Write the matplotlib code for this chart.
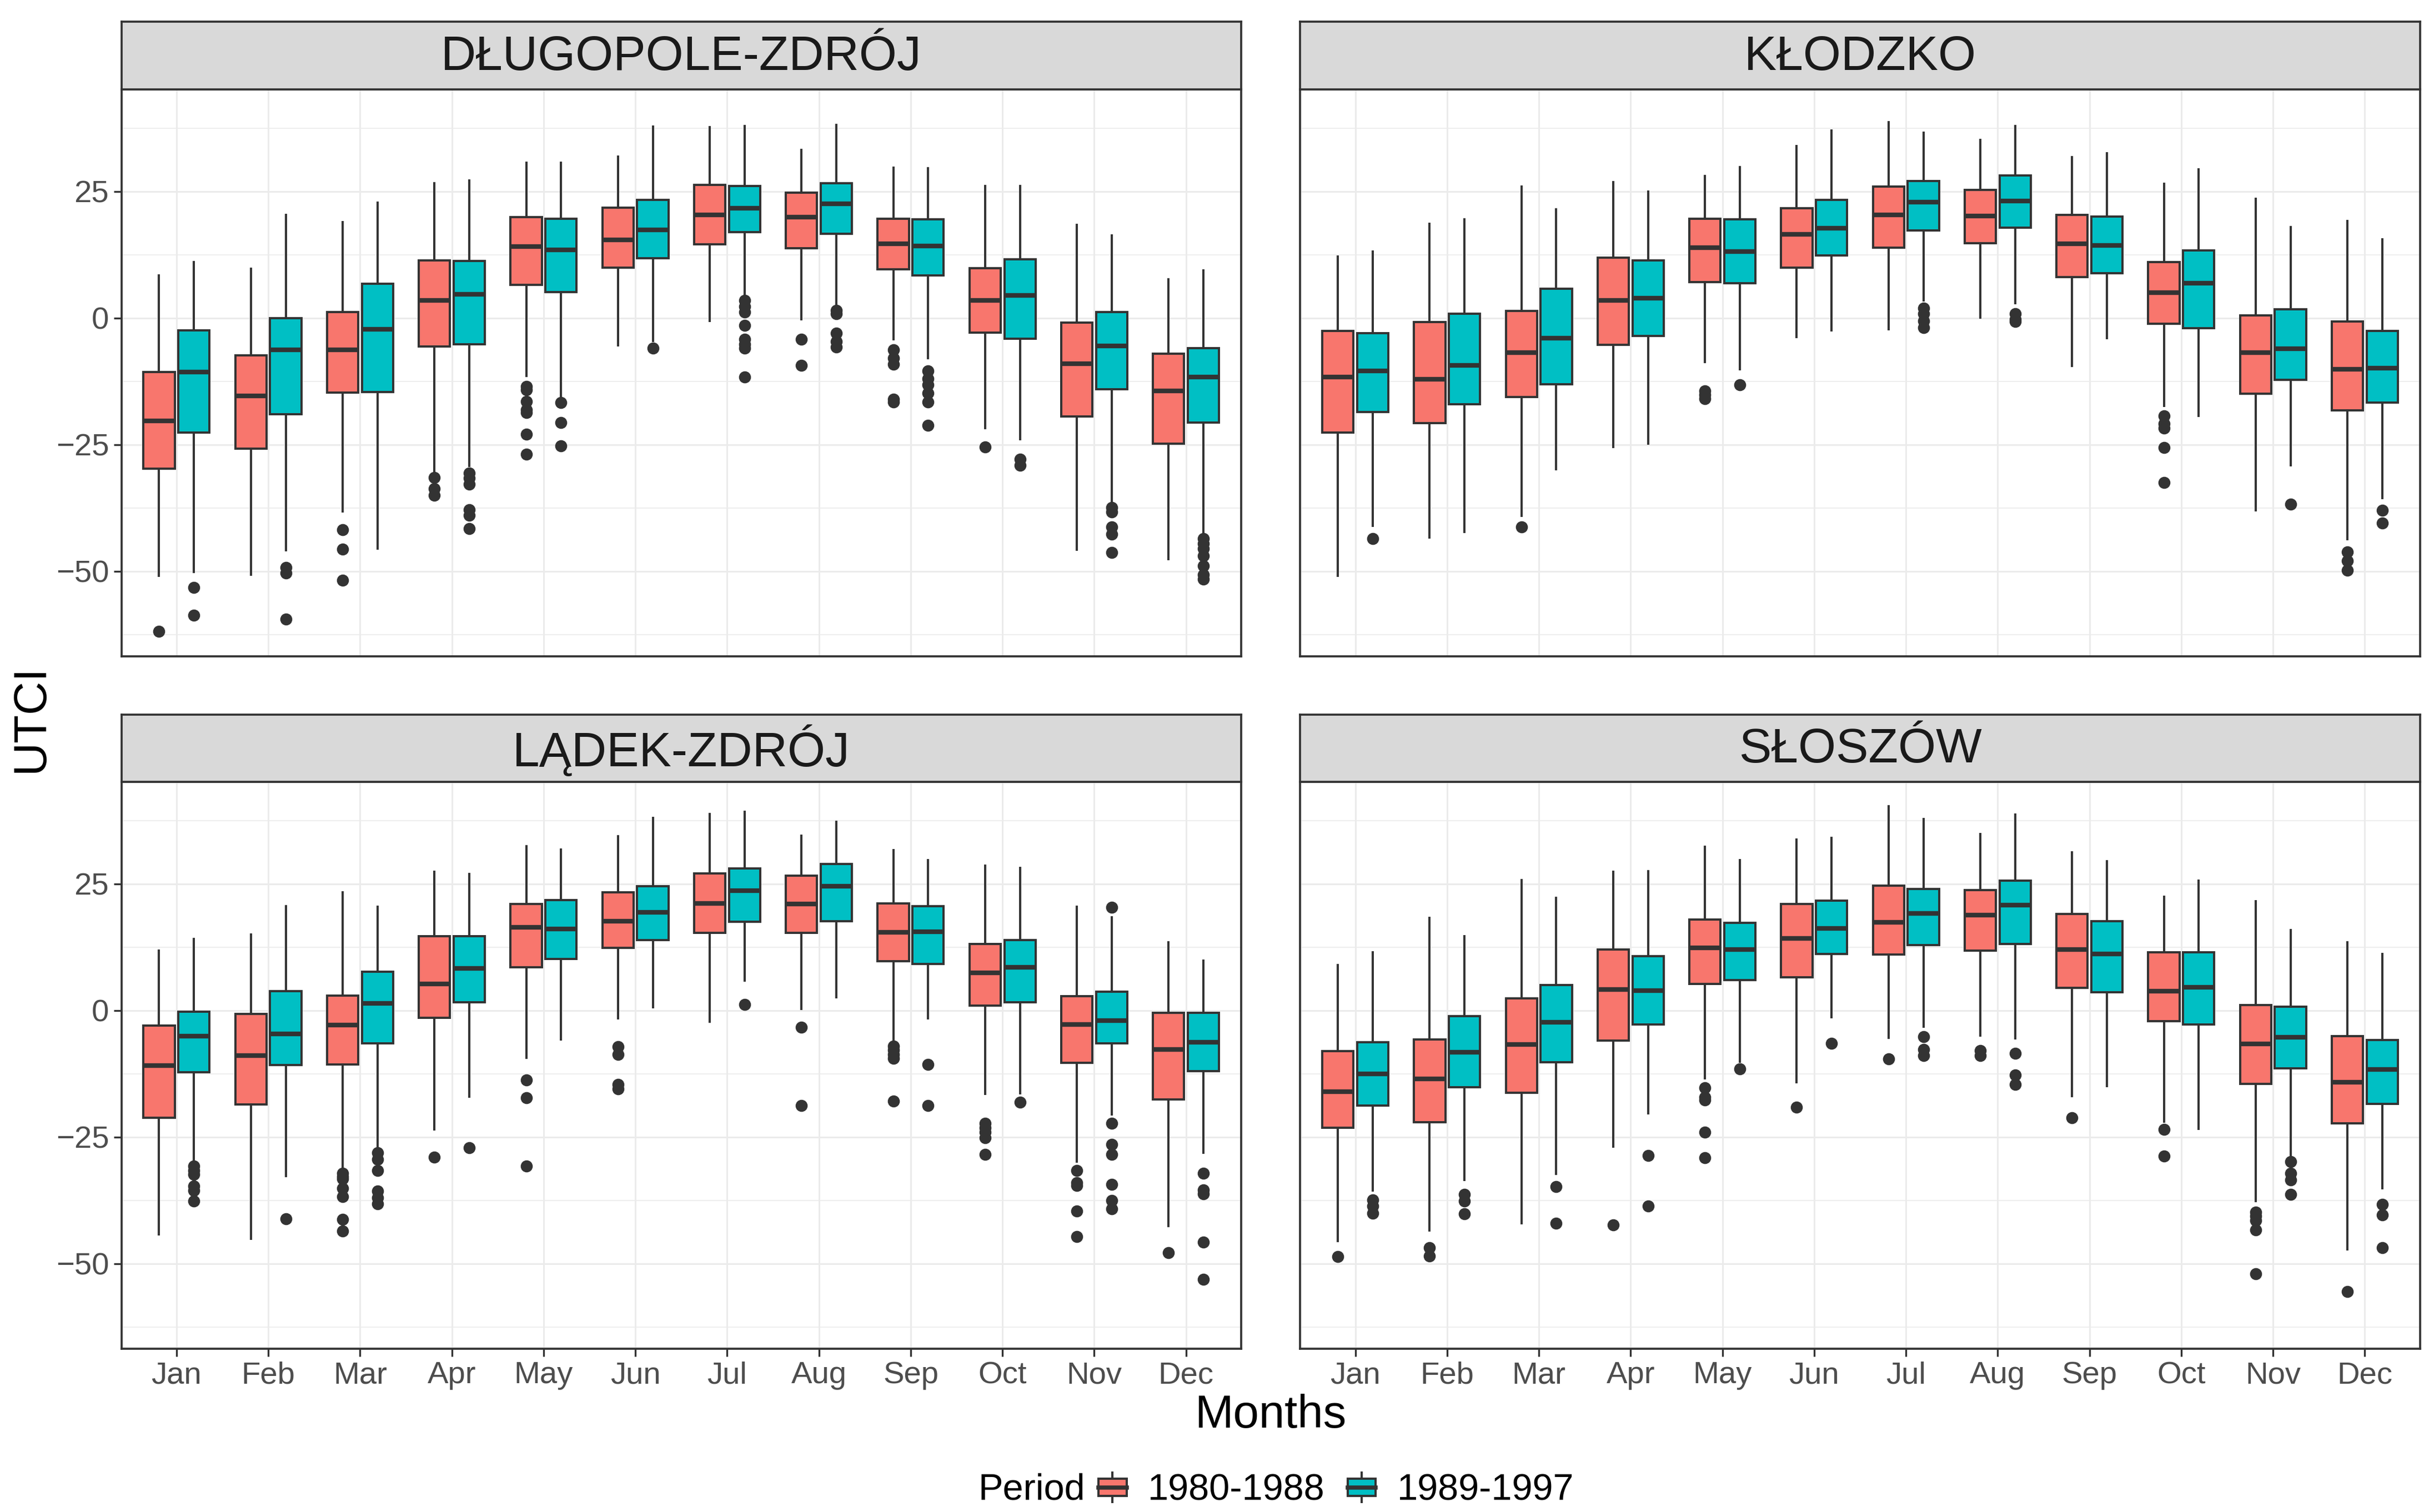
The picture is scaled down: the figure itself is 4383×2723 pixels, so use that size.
import numpy as np
import matplotlib.pyplot as plt
from matplotlib.patches import Rectangle, Patch
from matplotlib.lines import Line2D
from matplotlib.legend_handler import HandlerBase

plt.rcParams['font.family'] = ['Liberation Sans', 'DejaVu Sans']

months = ['Jan', 'Feb', 'Mar', 'Apr', 'May', 'Jun',
          'Jul', 'Aug', 'Sep', 'Oct', 'Nov', 'Dec']
stations = ['DŁUGOPOLE-ZDRÓJ', 'KŁODZKO', 'LĄDEK-ZDRÓJ', 'SŁOSZÓW']
periods = ['1980-1988', '1989-1997']
colors = ['#F8766D', '#00BFC4']

# per month: (lower whisker, Q1, median, Q3, upper whisker)
dlugopole_1 = [(-50.9, -29.8, -20.3, -10.7, 8.4), (-50.7, -25.8, -15.4, -7.4, 9.7),
               (-38.2, -14.7, -6.3, 1.2, 18.9), (-30.8, -5.6, 3.5, 11.4, 26.6),
               (-11.4, 6.6, 14.1, 19.9, 30.7), (-5.4, 9.9, 15.4, 21.8, 31.9),
               (-0.6, 14.6, 20.4, 26.3, 37.7), (-0.2, 13.8, 19.9, 24.8, 33.2),
               (-4.2, 9.6, 14.7, 19.6, 29.7), (-21.7, -2.9, 3.5, 9.8, 26.1),
               (-45.8, -19.4, -9.0, -0.9, 18.4), (-47.6, -24.8, -14.4, -7.0, 7.6)]
dlugopole_1_out = [[-61.9], [], [-41.8, -45.7, -51.8], [-31.5, -33.7, -35.0],
                   [-13.5, -14.2, -16.5, -18.1, -18.7, -23.0, -26.9], [], [],
                   [-4.2, -9.4], [-6.3, -7.9, -9.1, -16.0, -16.6], [-25.5], [], []]
dlugopole_2 = [(-50.2, -22.6, -10.7, -2.4, 11.0), (-45.9, -19.0, -6.3, 0.0, 20.4),
               (-45.5, -14.6, -2.2, 6.8, 22.8), (-29.2, -5.2, 4.7, 11.3, 27.2),
               (-15.8, 5.1, 13.5, 19.6, 30.7), (-4.5, 11.8, 17.4, 23.3, 37.8),
               (4.3, 17.0, 21.7, 26.1, 37.9), (2.3, 16.6, 22.6, 26.6, 38.1),
               (-7.9, 8.4, 14.2, 19.5, 29.6), (-23.9, -4.1, 4.5, 11.6, 26.1),
               (-36.8, -14.1, -5.5, 1.2, 16.3), (-42.8, -20.6, -11.6, -5.9, 9.4)]
dlugopole_2_out = [[-53.2, -58.7], [-49.3, -50.4, -59.5], [],
                   [-30.6, -31.6, -32.8, -37.9, -39.0, -41.6], [-16.7, -20.7, -25.2], [-6.0],
                   [3.5, 2.3, 1.2, -1.5, -4.2, -5.2, -5.9, -11.7], [1.5, 0.9, -3.0, -4.6, -5.7],
                   [-10.5, -12.0, -13.2, -14.8, -16.6, -21.2], [-27.9, -29.1],
                   [-37.4, -38.3, -41.3, -42.7, -46.3],
                   [-43.6, -44.6, -45.6, -47.0, -48.9, -50.7, -51.6]]

klodzko_1 = [(-50.9, -22.6, -11.6, -2.6, 12.2), (-43.3, -20.8, -12.1, -0.8, 18.6),
             (-39.1, -15.6, -6.8, 1.4, 26.0), (-25.5, -5.3, 3.5, 11.9, 26.9),
             (-8.7, 7.1, 13.9, 19.6, 28.1), (-3.8, 9.9, 16.5, 21.7, 34.0),
             (-2.2, 13.9, 20.4, 26.0, 38.7), (0.1, 14.8, 20.2, 25.3, 35.2),
             (-9.5, 8.1, 14.7, 20.4, 31.8), (-17.4, -1.1, 5.0, 11.0, 26.5),
             (-38.0, -14.9, -6.8, 0.5, 23.6), (-43.7, -18.2, -10.1, -0.7, 19.2)]
klodzko_1_out = [[], [], [-41.3], [], [-14.4, -15.2, -15.9], [], [], [], [],
                 [-19.3, -20.9, -21.7, -25.6, -32.5], [], [-46.2, -48.0, -49.8]]
klodzko_2 = [(-41.1, -18.6, -10.5, -3.0, 13.1), (-42.3, -17.0, -9.4, 0.8, 19.5),
             (-29.9, -13.1, -4.0, 5.8, 21.5), (-24.8, -3.5, 3.9, 11.4, 25.0),
             (-10.1, 6.9, 13.1, 19.5, 29.8), (-2.4, 12.4, 17.7, 23.3, 37.0),
             (3.5, 17.3, 22.9, 27.1, 36.6), (2.9, 17.8, 23.1, 28.2, 37.9),
             (-4.0, 8.9, 14.3, 20.0, 32.5), (-19.3, -2.0, 6.9, 13.4, 29.4),
             (-29.1, -12.2, -6.1, 1.7, 18.0), (-35.6, -16.7, -9.9, -2.5, 15.5)]
klodzko_2_out = [[-43.6], [], [], [], [-13.2], [], [2.0, 0.9, -0.6, -1.9],
                 [0.9, -0.2, -0.7], [], [], [-36.8], [-38.0, -40.5]]

ladek_1 = [(-44.2, -21.2, -10.9, -3.0, 11.8), (-45.1, -18.5, -8.9, -0.7, 15.0),
           (-31.4, -10.6, -2.9, 3.0, 23.3), (-23.5, -1.4, 5.3, 14.7, 27.4),
           (-9.3, 8.5, 16.4, 21.1, 32.5), (-1.5, 12.4, 17.7, 23.4, 34.4),
           (-2.2, 15.3, 21.2, 27.1, 38.8), (0.3, 15.3, 21.1, 26.6, 34.5),
           (-6.6, 9.8, 15.4, 21.2, 31.7), (-16.5, 1.0, 7.5, 13.1, 28.6),
           (-29.9, -10.3, -2.7, 2.8, 20.5), (-42.6, -17.6, -7.7, -0.5, 13.5)]
ladek_1_out = [[], [], [-32.1, -32.8, -33.3, -35.1, -36.8, -41.2, -43.6], [-29.0],
               [-13.7, -17.2, -30.7], [-7.1, -8.7, -14.6, -15.5], [], [-3.3, -18.8],
               [-7.0, -7.8, -8.7, -9.4, -17.9], [-22.3, -23.2, -24.0, -25.1, -28.4],
               [-31.6, -34.0, -34.6, -39.6, -44.6], [-47.8]]
ladek_2 = [(-30.1, -12.2, -5.1, -0.2, 14.1), (-32.7, -10.8, -4.6, 3.8, 20.6),
           (-27.7, -6.5, 1.4, 7.7, 20.5), (-17.0, 1.6, 8.3, 14.7, 27.0),
           (-5.7, 10.2, 16.1, 21.8, 31.8), (0.6, 13.9, 19.4, 24.6, 38.1),
           (5.9, 17.5, 23.7, 28.1, 39.3), (2.6, 17.6, 24.6, 28.9, 37.3),
           (-1.6, 9.2, 15.6, 20.6, 29.7), (-16.4, 1.6, 8.5, 13.9, 28.2),
           (-20.5, -6.5, -2.0, 3.7, 18.4), (-28.1, -12.0, -6.3, -0.5, 9.9)]
ladek_2_out = [[-30.7, -31.6, -32.4, -34.7, -35.5, -37.6], [-41.1],
               [-28.1, -29.4, -31.6, -35.7, -37.0, -38.2], [-27.1], [], [], [1.2], [],
               [-10.6, -18.8], [-18.1], [20.4, -22.3, -26.4, -28.4, -34.3, -37.5, -39.2],
               [-32.2, -35.4, -36.2, -45.7, -53.1]]

sloszow_1 = [(-45.5, -23.2, -16.0, -8.0, 9.0), (-43.5, -22.1, -13.5, -5.7, 18.3),
             (-42.0, -16.2, -6.7, 2.4, 25.8), (-26.9, -5.9, 4.2, 12.0, 27.4),
             (-13.4, 5.2, 12.4, 18.0, 32.3), (-14.2, 6.6, 14.2, 21.1, 33.8),
             (-5.4, 11.1, 17.4, 24.7, 40.4), (-5.0, 11.8, 18.8, 23.8, 34.9),
             (-16.9, 4.5, 12.1, 19.1, 31.2), (-22.0, -2.1, 3.8, 11.5, 22.5),
             (-37.6, -14.5, -6.6, 1.1, 21.6), (-47.2, -22.3, -14.2, -5.1, 13.5)]
sloszow_1_out = [[-48.6], [-46.8, -48.5], [], [-42.4], [-15.3, -17.1, -17.7, -24.0, -29.1],
                 [-19.1], [-9.6], [-7.9, -8.9], [-21.2], [-23.5, -28.7],
                 [-39.8, -40.6, -41.5, -43.3, -52.0], [-55.5]]
sloszow_2 = [(-35.6, -18.8, -12.5, -6.3, 11.5), (-33.5, -15.1, -8.2, -1.1, 14.7),
             (-32.3, -10.2, -2.3, 5.0, 22.2), (-20.3, -2.8, 3.9, 10.7, 27.5),
             (-10.1, 6.0, 12.0, 17.3, 29.7), (-1.3, 11.2, 16.2, 21.7, 34.1),
             (-3.2, 12.9, 19.2, 24.0, 37.8), (-5.5, 13.1, 20.8, 25.6, 38.7),
             (-14.9, 3.6, 11.2, 17.7, 29.5), (-23.4, -2.7, 4.6, 11.5, 25.6),
             (-28.8, -11.4, -5.3, 0.8, 15.9), (-35.1, -18.4, -11.6, -5.8, 11.2)]
sloszow_2_out = [[-37.4, -38.6, -40.0], [-36.3, -37.6, -40.2], [-34.8, -42.0],
                 [-28.6, -38.6], [-11.5], [-6.5], [-5.2, -7.7, -8.9], [-8.5, -12.7, -14.6],
                 [], [], [-29.9, -32.2, -33.5, -36.3], [-38.3, -40.4, -46.8]]

station_data = [
    ((dlugopole_1, dlugopole_1_out), (dlugopole_2, dlugopole_2_out)),
    ((klodzko_1, klodzko_1_out), (klodzko_2, klodzko_2_out)),
    ((ladek_1, ladek_1_out), (ladek_2, ladek_2_out)),
    ((sloszow_1, sloszow_1_out), (sloszow_2, sloszow_2_out)),
]

EDGE = '#333333'
GRID = '#EBEBEB'
LW = 0.95


def make_stats(boxes, outliers):
    stats = []
    for (lo, q1, med, q3, hi), fl in zip(boxes, outliers):
        stats.append(dict(whislo=lo, q1=q1, med=med, q3=q3, whishi=hi, fliers=fl))
    return stats


class BoxKey(HandlerBase):
    def create_artists(self, legend, orig_handle, xdescent, ydescent,
                       width, height, fontsize, trans):
        fc = orig_handle.get_facecolor()
        x0 = -xdescent
        y0 = -ydescent
        cx = x0 + width / 2
        bx0 = x0 + width * 0.12
        bw = width * 0.76
        box = Rectangle((bx0, y0 + height * 0.2), bw, height * 0.6,
                        facecolor=fc, edgecolor=EDGE, lw=LW, transform=trans)
        w1 = Line2D([cx, cx], [y0, y0 + height * 0.2], color=EDGE, lw=LW, transform=trans)
        w2 = Line2D([cx, cx], [y0 + height * 0.8, y0 + height], color=EDGE, lw=LW,
                    transform=trans)
        med = Line2D([bx0, bx0 + bw], [y0 + height * 0.5] * 2, color=EDGE, lw=1.8,
                     transform=trans)
        return [w1, w2, box, med]


fig = plt.figure(figsize=(4383 / 300, 2723 / 300), dpi=300)

col_x = [0.0499, 0.5342]
col_w = 0.4600
row_y = [0.566, 0.108]
plot_h = 0.375
strip_h = 0.0445

x = np.arange(1, 13)
offset = 0.19
box_w = 0.34

for i, name in enumerate(stations):
    r, c = divmod(i, 2)
    ax = fig.add_axes([col_x[c], row_y[r], col_w, plot_h])
    for k, (boxes, outs) in enumerate(station_data[i]):
        pos = x - offset if k == 0 else x + offset
        ax.bxp(make_stats(boxes, outs), positions=pos, widths=box_w,
               patch_artist=True, showcaps=False, manage_ticks=False,
               boxprops=dict(facecolor=colors[k], edgecolor=EDGE, linewidth=LW),
               whiskerprops=dict(color=EDGE, linewidth=LW),
               medianprops=dict(color=EDGE, linewidth=2.0, solid_capstyle='butt'),
               flierprops=dict(marker='o', markerfacecolor=EDGE, markeredgecolor=EDGE,
                               markersize=4.2, linestyle='none'))
    ax.set_xlim(0.4, 12.6)
    ax.set_ylim(-66.8, 45.2)
    ax.set_xticks(x)
    ax.set_yticks([-50, -25, 0, 25])
    ax.set_yticks([-62.5, -37.5, -12.5, 12.5, 37.5], minor=True)
    ax.set_axisbelow(True)
    ax.grid(True, which='major', color=GRID, linewidth=0.7)
    ax.grid(True, which='minor', axis='y', color=GRID, linewidth=0.4)
    for sp in ax.spines.values():
        sp.set_color(EDGE)
        sp.set_linewidth(0.9)
    ax.tick_params(which='minor', length=0)
    ax.tick_params(which='major', color=EDGE, width=0.8, length=3.4, pad=2,
                   labelsize=13.5, labelcolor='#4D4D4D')
    if r == 0:
        ax.tick_params(axis='x', bottom=False, labelbottom=False)
    else:
        ax.set_xticklabels(months)
    if c == 1:
        ax.tick_params(axis='y', left=False, labelleft=False)

    sax = fig.add_axes([col_x[c], row_y[r] + plot_h, col_w, strip_h])
    sax.set_facecolor('#D9D9D9')
    sax.set_xticks([])
    sax.set_yticks([])
    for sp in sax.spines.values():
        sp.set_color(EDGE)
        sp.set_linewidth(0.9)
    sax.text(0.5, 0.47, name, ha='center', va='center', fontsize=21,
             color='#1A1A1A', transform=sax.transAxes)

fig.text(0.0128, 0.525, 'UTCI', rotation=90, ha='center', va='center', fontsize=20)
fig.text(0.522, 0.064, 'Months', ha='center', va='center', fontsize=20)

fig.text(0.4018, 0.0144, 'Period', ha='left', va='center', fontsize=16)
handles = [Patch(facecolor=col) for col in colors]
fig.legend(handles, periods, handler_map={Patch: BoxKey()},
           loc='center left', bbox_to_anchor=(0.4495, 0.0144), ncol=2,
           frameon=False, fontsize=16, handlelength=1.0, handleheight=0.85,
           handletextpad=0.45, columnspacing=0.5, borderpad=0, borderaxespad=0)

fig.savefig('out.png', dpi=300)
